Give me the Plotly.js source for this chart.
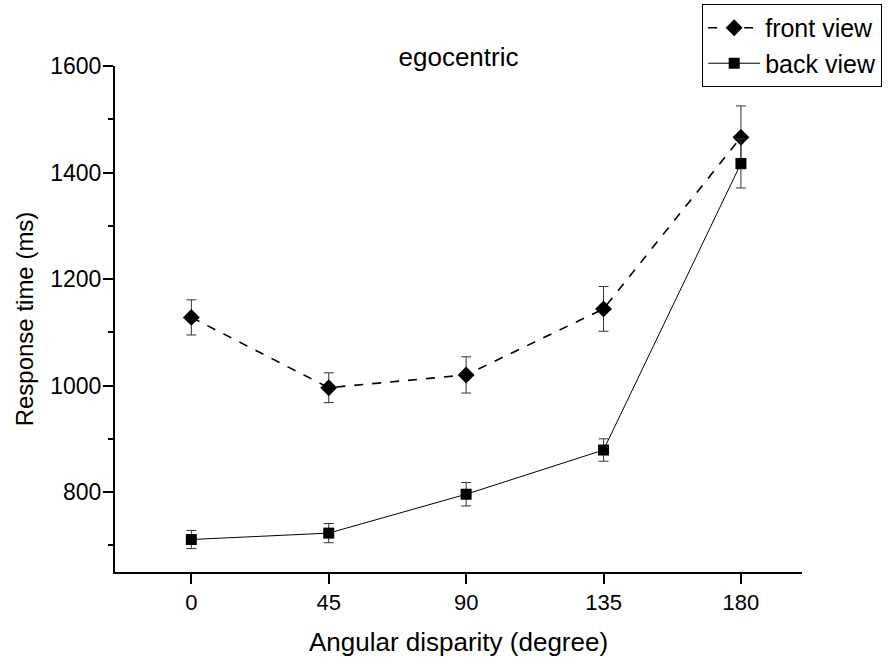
<!DOCTYPE html>
<html>
<head>
<meta charset="utf-8">
<script src="https://cdn.plot.ly/plotly-3.0.1.min.js"></script>
<style>
  body { margin: 0; background: #fff; }
  #plot { width: 892px; height: 666px; }
</style>
</head>
<body>
<div id="plot"></div>
<script>
// angular disparity (degree)
const angles = [0, 45, 90, 135, 180];

// response time (ms) and error bars
const frontView = [1128, 996, 1020, 1144, 1466];
const frontErr = [33, 28, 34, 42, 59];
const backView = [711, 723, 796, 879, 1417];
const backErr = [17, 18, 22, 21, 46];

const yTicks = [800, 1000, 1200, 1400, 1600];

const font = "Liberation Sans, Arial, sans-serif";

var data = [
  {
    x: angles,
    y: frontView,
    name: "front view",
    mode: "lines+markers",
    type: "scatter",
    line: {color: "#000", width: 1.6, dash: "dash"},
    marker: {symbol: "diamond", size: 13, color: "#000"},
    error_y: {type: "data", array: frontErr, visible: true, color: "#333", thickness: 1, width: 5}
  },
  {
    x: angles,
    y: backView,
    name: "back view",
    mode: "lines+markers",
    type: "scatter",
    line: {color: "#000", width: 1},
    marker: {symbol: "square", size: 11, color: "#000"},
    error_y: {type: "data", array: backErr, visible: true, color: "#333", thickness: 1, width: 5}
  }
];

var layout = {
  width: 892,
  height: 666,
  margin: {l: 115, r: 90, t: 66, b: 94, pad: 0, autoexpand: false},
  paper_bgcolor: "#fff",
  plot_bgcolor: "#fff",
  font: {family: font, color: "#000"},
  showlegend: true,
  title: {
    text: "egocentric",
    font: {size: 26, color: "#000"},
    x: 0.5, xref: "paper",
    y: 0.915, yref: "container", yanchor: "middle"
  },
  xaxis: {
    range: [-25, 200],
    tickvals: angles,
    ticktext: angles.map(String),
    showgrid: false,
    zeroline: false,
    showline: true,
    linecolor: "#000",
    linewidth: 2,
    ticks: "outside",
    ticklen: 10,
    tickwidth: 2,
    tickcolor: "#000",
    tickfont: {size: 22},
    title: {text: "Angular disparity (degree)", font: {size: 26}, standoff: 18}
  },
  yaxis: {
    range: [650, 1600],
    tickvals: yTicks,
    showgrid: false,
    zeroline: false,
    showline: true,
    linecolor: "#000",
    linewidth: 2,
    ticks: "outside",
    ticklen: 10,
    tickwidth: 2,
    tickcolor: "#000",
    tickfont: {size: 23},
    ticklabelstandoff: -3,
    minor: {dtick: 100, ticks: "outside", ticklen: 5, tickwidth: 2, tickcolor: "#000", showgrid: false},
    title: {text: "Response time (ms)", font: {size: 24}, standoff: 10}
  },
  legend: {
    xref: "container", x: 0.989, xanchor: "right",
    yref: "container", y: 0.994, yanchor: "top",
    bgcolor: "#fff",
    bordercolor: "#000",
    borderwidth: 1,
    font: {size: 25, color: "#000"},
    itemwidth: 52,
    tracegroupgap: 0
  }
};

Plotly.newPlot("plot", data, layout, {displayModeBar: false, staticPlot: true});
</script>
</body>
</html>
